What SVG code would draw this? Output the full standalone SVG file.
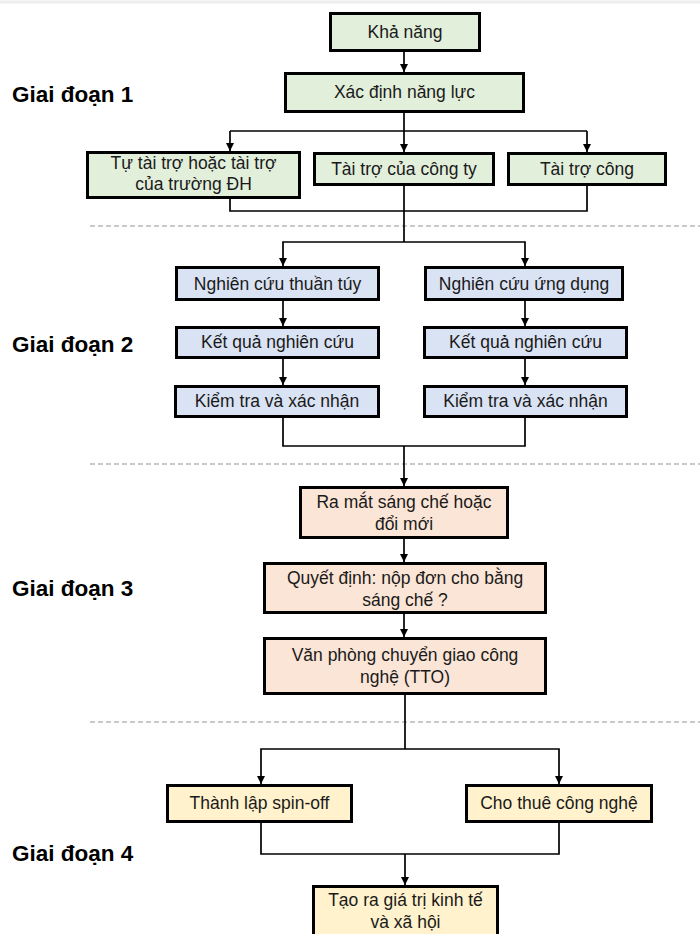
<svg xmlns="http://www.w3.org/2000/svg" width="700" height="934" viewBox="0 0 700 934">
<defs>
<marker id="ah" viewBox="0 0 10 10" refX="10" refY="5" markerWidth="8" markerHeight="9" orient="auto" markerUnits="userSpaceOnUse">
<path d="M0,0 L10,5 L0,10 z" fill="#000"/>
</marker>
<style>
.box{stroke:#000;stroke-width:3}
.g{fill:#e2efda}.b{fill:#dae3f3}.o{fill:#fbe5d6}.y{fill:#fff2cc}
.t{font-family:"Liberation Sans",Arial,sans-serif;font-size:17.5px;fill:#1a1a1a;text-anchor:middle}
.st{font-family:"Liberation Sans",Arial,sans-serif;font-size:22.5px;font-weight:bold;fill:#000}
.c{fill:none;stroke:#000;stroke-width:1.7}
.a{marker-end:url(#ah)}
.d{stroke:#b8b8b8;stroke-width:1.3;stroke-dasharray:5 3}
</style>
</defs>
<rect x="0" y="0" width="700" height="934" fill="#fff"/>
<line x1="0" y1="2" x2="700" y2="2" stroke="#ededed" stroke-width="3"/>

<g id="separators">
<line class="d" x1="90" y1="226" x2="700" y2="226"/>
<line class="d" x1="90" y1="464" x2="700" y2="464"/>
<line class="d" x1="90" y1="722" x2="700" y2="722"/>
</g>

<g id="stage-labels">
<text class="st" x="12" y="102">Giai đoạn 1</text>
<text class="st" x="12" y="352">Giai đoạn 2</text>
<text class="st" x="12" y="596">Giai đoạn 3</text>
<text class="st" x="12" y="861">Giai đoạn 4</text>
</g>

<g id="connectors">
<line class="c a" x1="404" y1="52" x2="404" y2="72"/>
<polyline class="c" points="230,131 587,131"/>
<line class="c a" x1="404" y1="113" x2="404" y2="152"/>
<line class="c a" x1="230" y1="131" x2="230" y2="151"/>
<line class="c a" x1="587" y1="131" x2="587" y2="152"/>
<polyline class="c" points="230,199 230,211 587,211 587,186"/>
<line class="c" x1="404" y1="186" x2="404" y2="242"/>
<polyline class="c a" points="404,242 283,242 283,266"/>
<polyline class="c a" points="404,242 525,242 525,266"/>
<line class="c a" x1="283" y1="301" x2="283" y2="326"/>
<line class="c a" x1="525" y1="301" x2="525" y2="326"/>
<line class="c a" x1="283" y1="359" x2="283" y2="385"/>
<line class="c a" x1="525" y1="359" x2="525" y2="385"/>
<polyline class="c" points="283,418 283,446 525,446 525,418"/>
<line class="c a" x1="404" y1="446" x2="404" y2="486"/>
<line class="c a" x1="404" y1="539" x2="404" y2="562"/>
<line class="c a" x1="404" y1="614" x2="404" y2="637"/>
<line class="c" x1="405" y1="695" x2="405" y2="749"/>
<polyline class="c a" points="405,749 261,749 261,784"/>
<polyline class="c a" points="405,749 559,749 559,784"/>
<polyline class="c" points="261,823 261,854 559,854 559,823"/>
<line class="c a" x1="405" y1="854" x2="405" y2="885"/>
</g>

<g id="n-kha-nang"><rect class="box g" x="330.5" y="13.5" width="149" height="37"/><text class="t" x="405" y="38">Khả năng</text></g>
<g id="n-xac-dinh"><rect class="box g" x="285.5" y="73.5" width="238" height="38"/><text class="t" x="404.5" y="98">Xác định năng lực</text></g>
<g id="n-tu-tai-tro"><rect class="box g" x="87.5" y="152.5" width="212" height="45"/><text class="t" x="193.5" y="169">Tự tài trợ hoặc tài trợ</text><text class="t" x="193.5" y="190">của trường ĐH</text></g>
<g id="n-cong-ty"><rect class="box g" x="314.5" y="153.5" width="179" height="31"/><text class="t" x="404" y="175">Tài trợ của công ty</text></g>
<g id="n-tai-tro-cong"><rect class="box g" x="508.5" y="153.5" width="157" height="31"/><text class="t" x="587" y="175">Tài trợ công</text></g>

<g id="n-thuan-tuy"><rect class="box b" x="176.5" y="267.5" width="202" height="32"/><text class="t" x="277.5" y="290">Nghiên cứu thuần túy</text></g>
<g id="n-ung-dung"><rect class="box b" x="425.5" y="267.5" width="197" height="32"/><text class="t" x="524" y="290">Nghiên cứu ứng dụng</text></g>
<g id="n-ket-qua-1"><rect class="box b" x="176.5" y="327.5" width="202" height="30"/><text class="t" x="277.5" y="348">Kết quả nghiên cứu</text></g>
<g id="n-ket-qua-2"><rect class="box b" x="424.5" y="327.5" width="202" height="30"/><text class="t" x="525.5" y="348">Kết quả nghiên cứu</text></g>
<g id="n-kiem-tra-1"><rect class="box b" x="175.5" y="386.5" width="203" height="30"/><text class="t" x="277" y="407">Kiểm tra và xác nhận</text></g>
<g id="n-kiem-tra-2"><rect class="box b" x="424.5" y="386.5" width="202" height="30"/><text class="t" x="525.5" y="407">Kiểm tra và xác nhận</text></g>

<g id="n-ra-mat"><rect class="box o" x="300.5" y="487.5" width="207" height="50"/><text class="t" x="404" y="508">Ra mắt sáng chế hoặc</text><text class="t" x="404" y="530">đổi mới</text></g>
<g id="n-quyet-dinh"><rect class="box o" x="264.5" y="563.5" width="281" height="49"/><text class="t" x="405" y="584">Quyết định: nộp đơn cho bằng</text><text class="t" x="405" y="606">sáng chế ?</text></g>
<g id="n-tto"><rect class="box o" x="264.5" y="638.5" width="281" height="55"/><text class="t" x="405" y="661">Văn phòng chuyển giao công</text><text class="t" x="405" y="683">nghệ (TTO)</text></g>

<g id="n-spin-off"><rect class="box y" x="167.5" y="785.5" width="184" height="36"/><text class="t" x="259.5" y="809">Thành lập spin-off</text></g>
<g id="n-cho-thue"><rect class="box y" x="466.5" y="785.5" width="185" height="36"/><text class="t" x="559" y="809">Cho thuê công nghệ</text></g>
<g id="n-gia-tri"><rect class="box y" x="313.5" y="886.5" width="184" height="52"/><text class="t" x="405.5" y="906">Tạo ra giá trị kinh tế</text><text class="t" x="405.5" y="928">và xã hội</text></g>
</svg>
